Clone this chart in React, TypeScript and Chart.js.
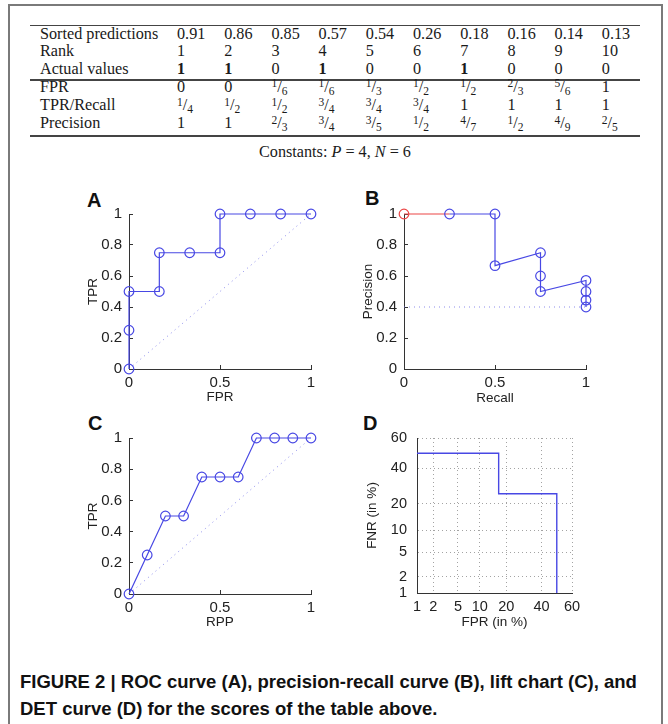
import React, { useEffect, useRef } from 'react';
import { Chart, registerables, LinearScale } from 'chart.js';

// ---------------- table data ----------------
const rowLabels = ['Sorted predictions', 'Rank', 'Actual values', 'FPR', 'TPR/Recall', 'Precision'];
const sortedPredictions = ['0.91', '0.86', '0.85', '0.57', '0.54', '0.26', '0.18', '0.16', '0.14', '0.13'];
const ranks = ['1', '2', '3', '4', '5', '6', '7', '8', '9', '10'];
const actualValues = ['1', '1', '0', '1', '0', '0', '1', '0', '0', '0'];
const fprLabels = ['0', '0', '1/6', '1/6', '1/3', '1/2', '1/2', '2/3', '5/6', '1'];
const tprLabels = ['1/4', '1/2', '1/2', '3/4', '3/4', '3/4', '1', '1', '1', '1'];
const precisionLabels = ['1', '1', '2/3', '3/4', '3/5', '1/2', '4/7', '1/2', '4/9', '2/5'];

// ---------------- chart data ----------------
// A: ROC
const rocFPR = [0, 0, 0, 1 / 6, 1 / 6, 1 / 3, 1 / 2, 1 / 2, 2 / 3, 5 / 6, 1];
const rocTPR = [0, 0.25, 0.5, 0.5, 0.75, 0.75, 0.75, 1, 1, 1, 1];
// B: precision-recall
const prStartRecall = [0, 0.25];
const prStartPrecision = [1, 1];
const prRecall = [0.25, 0.5, 0.5, 0.75, 0.75, 0.75, 1, 1, 1, 1];
const prPrecision = [1, 1, 2 / 3, 3 / 4, 3 / 5, 1 / 2, 4 / 7, 1 / 2, 4 / 9, 2 / 5];
const prBaseline = 0.4;
// C: lift chart
const liftRPP = [0, 0.1, 0.2, 0.3, 0.4, 0.5, 0.6, 0.7, 0.8, 0.9, 1];
const liftTPR = [0, 0.25, 0.5, 0.5, 0.75, 0.75, 0.75, 1, 1, 1, 1];
// D: DET curve (percent)
const detFPR = [0, 0, 16.67, 16.67, 33.33, 50, 50];
const detFNR = [75, 50, 50, 25, 25, 25, 0];
const detTicks = [1, 2, 5, 10, 20, 40, 60];

// ---------------- probit scale ----------------
function probit(pIn: number): number {
  const p = Math.min(Math.max(pIn, 1e-5), 1 - 1e-5);
  const a = [-3.969683028665376e1, 2.209460984245205e2, -2.759285104469687e2, 1.38357751867269e2, -3.066479806614716e1, 2.506628277459239];
  const b = [-5.447609879822406e1, 1.615858368580409e2, -1.556989798598866e2, 6.680131188771972e1, -1.328068155288572e1];
  const c = [-7.784894002430293e-3, -3.223964580411365e-1, -2.400758277161838, -2.549732539343734, 4.374664141464968, 2.938163982698783];
  const d = [7.784695709041462e-3, 3.224671290700398e-1, 2.445134137142996, 3.754408661907416];
  const plow = 0.02425;
  if (p < plow) {
    const q = Math.sqrt(-2 * Math.log(p));
    return (((((c[0] * q + c[1]) * q + c[2]) * q + c[3]) * q + c[4]) * q + c[5]) / ((((d[0] * q + d[1]) * q + d[2]) * q + d[3]) * q + 1);
  }
  if (p <= 1 - plow) {
    const q = p - 0.5;
    const r = q * q;
    return ((((((a[0] * r + a[1]) * r + a[2]) * r + a[3]) * r + a[4]) * r + a[5]) * q) / (((((b[0] * r + b[1]) * r + b[2]) * r + b[3]) * r + b[4]) * r + 1);
  }
  const q = Math.sqrt(-2 * Math.log(1 - p));
  return -(((((c[0] * q + c[1]) * q + c[2]) * q + c[3]) * q + c[4]) * q + c[5]) / ((((d[0] * q + d[1]) * q + d[2]) * q + d[3]) * q + 1);
}
function normCdf(z: number): number {
  const t = 1 / (1 + 0.3275911 * Math.abs(z) / Math.SQRT2);
  const y = 1 - (((((1.061405429 * t - 1.453152027) * t) + 1.421413741) * t - 0.284496736) * t + 0.254829592) * t * Math.exp(-z * z / 2);
  return z >= 0 ? 0.5 * (1 + y) : 0.5 * (1 - y);
}

class ProbitScale extends LinearScale {
  static id = 'probit';
  static defaults = {};
  _pMin = 0;
  _pMax = 1;
  buildTicks() {
    return detTicks.map((v) => ({ value: v }));
  }
  configure() {
    super.configure();
    this._pMin = probit(this.min / 100);
    this._pMax = probit(this.max / 100);
  }
  getPixelForValue(value: number) {
    const p = probit(value / 100);
    return this.getPixelForDecimal((p - this._pMin) / (this._pMax - this._pMin));
  }
  getValueForPixel(pixel: number) {
    const dd = this.getDecimalForPixel(pixel);
    return 100 * normCdf(this._pMin + dd * (this._pMax - this._pMin));
  }
}

Chart.register(...registerables, ProbitScale);
Chart.defaults.font.family = '"Liberation Sans", Arial, Helvetica, sans-serif';
Chart.defaults.font.size = 13;
Chart.defaults.color = '#222';

const BLUE = 'rgb(72,72,228)';
const DOTBLUE = 'rgba(110,110,230,0.8)';
const RED = 'rgb(235,70,70)';
const AXIS = '#333';

const Y_W = 69;
const X_H = 50;
const PAD_T = 20;
const PAD_R = 20;

type Area = { L: number; T: number; R: number; B: number };

function pts(xs: number[], ys: number[]) {
  return xs.map((x, i) => ({ x, y: ys[i] }));
}

const fmtTick = (v: number) => String(Math.round(Number(v) * 100) / 100);

function unitAxis(axis: 'x' | 'y', title: string, titlePad: number, step: number) {
  const isX = axis === 'x';
  return {
    type: 'linear',
    min: 0,
    max: 1,
    ticks: {
      stepSize: step,
      padding: isX ? 9 : 11,
      autoSkip: false,
      maxRotation: 0,
      color: '#222',
      font: { size: 15 },
      callback: fmtTick,
    },
    grid: { drawOnChartArea: false, drawTicks: true, tickLength: -4, color: AXIS, tickColor: AXIS },
    border: { display: true, color: AXIS, width: 1 },
    title: {
      display: true,
      text: title,
      color: '#222',
      font: { size: 13.5 },
      padding: isX ? { top: 0, bottom: titlePad } : { top: titlePad, bottom: 0 },
    },
    afterFit: (s: any) => {
      if (isX) s.height = X_H;
      else s.width = Y_W;
    },
  };
}

function detAxis(axis: 'x' | 'y', title: string, titlePad: number) {
  const isX = axis === 'x';
  return {
    type: 'probit',
    min: 1,
    max: 60,
    ticks: { padding: isX ? 5 : 10, autoSkip: false, maxRotation: 0, color: '#222', font: { size: 14.5 }, callback: (v: number) => String(v) },
    grid: { drawOnChartArea: true, drawTicks: false, color: 'rgba(140,140,140,0.8)', lineWidth: 1 },
    border: { display: true, color: AXIS, width: 1, dash: [1, 3] },
    title: {
      display: true,
      text: title,
      color: '#222',
      font: { size: 13.5 },
      padding: isX ? { top: 0, bottom: titlePad } : { top: titlePad, bottom: 0 },
    },
    afterFit: (s: any) => {
      if (isX) s.height = X_H;
      else s.width = Y_W;
    },
  };
}

function baseOptions(scales: any) {
  return {
    responsive: false,
    animation: false,
    layout: { padding: { left: 0, top: PAD_T, right: PAD_R, bottom: 0 } },
    plugins: { legend: { display: false }, tooltip: { enabled: false } },
    elements: { line: { tension: 0 } },
    scales,
  };
}

const circle = {
  pointRadius: 4.8,
  pointStyle: 'circle',
  pointBackgroundColor: 'rgba(0,0,0,0)',
  pointBorderColor: BLUE,
  pointBorderWidth: 1.2,
  clip: false,
};

function configA() {
  return {
    type: 'line',
    data: {
      datasets: [
        { data: pts(rocFPR, rocTPR), borderColor: BLUE, borderWidth: 1.2, ...circle },
        { data: pts([0, 1], [0, 1]), borderColor: DOTBLUE, borderWidth: 1, borderDash: [1, 4], pointRadius: 0 },
      ],
    },
    options: baseOptions({ x: unitAxis('x', 'FPR', 13.5, 0.5), y: unitAxis('y', 'TPR', 25, 0.2) }),
  };
}

function configB() {
  return {
    type: 'line',
    data: {
      datasets: [
        { data: pts(prRecall, prPrecision), borderColor: BLUE, borderWidth: 1.2, ...circle },
        {
          data: pts(prStartRecall, prStartPrecision),
          borderColor: RED,
          borderWidth: 1.2,
          pointRadius: [4.8, 0],
          pointBackgroundColor: 'rgba(0,0,0,0)',
          pointBorderColor: RED,
          pointBorderWidth: 1.2,
          clip: false,
        },
        { data: pts([0, 1], [prBaseline, prBaseline]), borderColor: DOTBLUE, borderWidth: 1, borderDash: [1, 4], pointRadius: 0 },
      ],
    },
    options: baseOptions({ x: unitAxis('x', 'Recall', 12.5, 0.5), y: unitAxis('y', 'Precision', 25, 0.2) }),
  };
}

function configC() {
  return {
    type: 'line',
    data: {
      datasets: [
        { data: pts(liftRPP, liftTPR), borderColor: BLUE, borderWidth: 1.2, ...circle },
        { data: pts([0, 1], [0, 1]), borderColor: DOTBLUE, borderWidth: 1, borderDash: [1, 4], pointRadius: 0 },
      ],
    },
    options: baseOptions({ x: unitAxis('x', 'RPP', 13.5, 0.5), y: unitAxis('y', 'TPR', 25, 0.2) }),
  };
}

function configD() {
  return {
    type: 'line',
    data: {
      datasets: [{ data: pts(detFPR, detFNR), borderColor: BLUE, borderWidth: 1.4, pointRadius: 0 }],
    },
    options: baseOptions({ x: detAxis('x', 'FPR (in %)', 12.5), y: detAxis('y', 'FNR (in %)', 16) }),
  };
}

function Panel({ area, make }: { area: Area; make: () => any }) {
  const ref = useRef<HTMLCanvasElement | null>(null);
  const left = area.L - Y_W;
  const top = area.T - PAD_T;
  const width = Y_W + (area.R - area.L) + PAD_R;
  const height = PAD_T + (area.B - area.T) + X_H;
  useEffect(() => {
    if (!ref.current) return;
    const chart = new Chart(ref.current, make() as any);
    return () => chart.destroy();
  }, []);
  return (
    <canvas
      ref={ref}
      width={width}
      height={height}
      style={{ position: 'absolute', left, top, width, height, display: 'block' }}
    />
  );
}

// ---------------- table rendering ----------------
const SERIF = '"Liberation Serif", "Times New Roman", Times, serif';
const SANS = '"Liberation Sans", Arial, Helvetica, sans-serif';
const TABLE_FS = 16.2;
const LABEL_X = 40;
const COL_X0 = 177;
const COL_DX = 47.2;
const ROW_BASE = [39.5, 56.8, 74.3, 92.5, 111, 129];

function CellText({ s, bold }: { s: string; bold?: boolean }) {
  if (s.includes('/')) {
    const [n, d] = s.split('/');
    return (
      <span>
        <span style={{ fontSize: 11.5, position: 'relative', top: -4.5 }}>{n}</span>
        <span style={{ fontSize: TABLE_FS }}>/</span>
        <span style={{ fontSize: 11.5, position: 'relative', top: 3 }}>{d}</span>
      </span>
    );
  }
  return <span style={{ fontWeight: bold ? 'bold' : 'normal' }}>{s}</span>;
}

function TableRow({ label, values, row, bold }: { label: string; values: string[]; row: number; bold?: boolean }) {
  const top = ROW_BASE[row] - 14.6;
  const base: React.CSSProperties = {
    position: 'absolute',
    top,
    fontFamily: SERIF,
    fontSize: TABLE_FS,
    lineHeight: '18px',
    color: '#1a1a1a',
    whiteSpace: 'nowrap',
  };
  return (
    <>
      <div style={{ ...base, left: LABEL_X }}>{label}</div>
      {values.map((v, i) => (
        <div key={i} style={{ ...base, left: COL_X0 + i * COL_DX }}>
          <CellText s={v} bold={bold && v === '1'} />
        </div>
      ))}
    </>
  );
}

function Rule({ y, h }: { y: number; h: number }) {
  return <div style={{ position: 'absolute', left: 30, width: 610, top: y, height: h, background: '#444' }} />;
}

function PanelLabel({ text, x, y }: { text: string; x: number; y: number }) {
  return (
    <div
      style={{
        position: 'absolute',
        left: x,
        top: y,
        fontFamily: SANS,
        fontWeight: 'bold',
        fontSize: 20,
        lineHeight: '20px',
        color: '#111',
      }}
    >
      {text}
    </div>
  );
}

export default function App() {
  return (
    <div style={{ position: 'absolute', left: 0, top: 0, width: 668, height: 724, background: '#fff', overflow: 'hidden' }}>
      <div
        style={{
          position: 'absolute',
          left: 8,
          top: 4,
          width: 655,
          height: 800,
          boxSizing: 'border-box',
          border: '2px solid #7a7a7a',
        }}
      />
      <Rule y={24.5} h={1.5} />
      <TableRow label={rowLabels[0]} values={sortedPredictions} row={0} />
      <TableRow label={rowLabels[1]} values={ranks} row={1} />
      <TableRow label={rowLabels[2]} values={actualValues} row={2} bold />
      <Rule y={79} h={2} />
      <TableRow label={rowLabels[3]} values={fprLabels} row={3} />
      <TableRow label={rowLabels[4]} values={tprLabels} row={4} />
      <TableRow label={rowLabels[5]} values={precisionLabels} row={5} />
      <Rule y={134.5} h={2} />
      <div
        style={{
          position: 'absolute',
          left: 30,
          width: 610,
          top: 143,
          textAlign: 'center',
          fontFamily: SERIF,
          fontSize: TABLE_FS,
          lineHeight: '18px',
          color: '#1a1a1a',
        }}
      >
        Constants: <i>P</i> = 4, <i>N</i> = 6
      </div>

      <PanelLabel text="A" x={87} y={189.5} />
      <PanelLabel text="B" x={365} y={187.5} />
      <PanelLabel text="C" x={88} y={412.5} />
      <PanelLabel text="D" x={363} y={412.5} />

      <Panel area={{ L: 129, T: 214, R: 311, B: 369 }} make={configA} />
      <Panel area={{ L: 404, T: 214, R: 586, B: 369 }} make={configB} />
      <Panel area={{ L: 129, T: 438, R: 311, B: 594 }} make={configC} />
      <Panel area={{ L: 417, T: 438, R: 572, B: 593 }} make={configD} />

      <div
        style={{
          position: 'absolute',
          left: 20,
          top: 667.5,
          width: 640,
          fontFamily: SANS,
          fontWeight: 'bold',
          fontSize: 18.5,
          lineHeight: '27px',
          color: '#111',
          whiteSpace: 'nowrap',
        }}
      >
        <div>FIGURE 2 | ROC curve (A), precision-recall curve (B), lift chart (C), and</div>
        <div>DET curve (D) for the scores of the table above.</div>
      </div>
    </div>
  );
}
